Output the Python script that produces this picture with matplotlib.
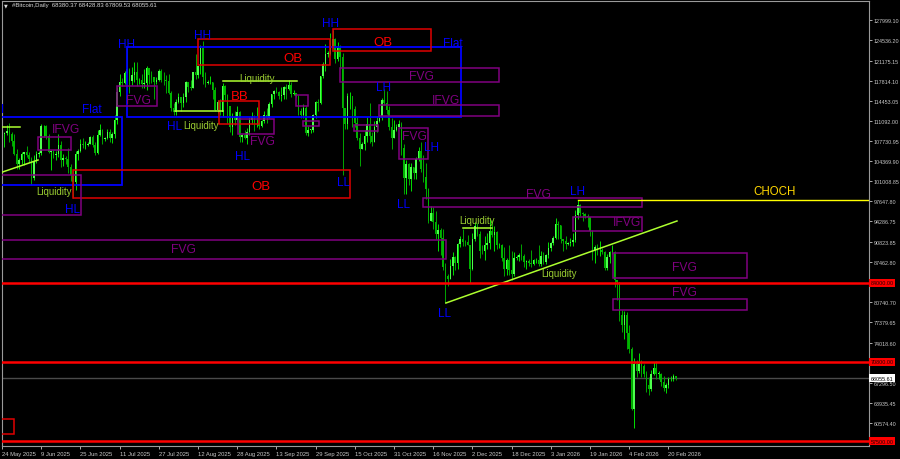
import numpy as np
import pandas as pd
import matplotlib
matplotlib.use("Agg")
from matplotlib import pyplot as plt
from matplotlib.patches import Rectangle

plt.rcParams['font.family'] = ['Liberation Sans', 'DejaVu Sans']

start = pd.Timestamp('2025-05-24')
first_open = 107.3  # thousands USD

# daily closes (thousands USD), one line per month
closes = [
    108.9, 109.0, 109.4, 108.9, 107.8, 105.6, 103.9, 104.6,
    105.6, 105.8, 105.4, 104.7, 101.5, 104.3, 105.6, 105.7, 110.2, 110.2, 108.6, 105.9, 106.0, 105.4, 105.6, 107.1, 104.6, 104.9, 104.7, 103.3, 102.1, 100.9, 105.6, 106.0, 107.3, 107.0, 107.1, 107.3, 108.4, 107.1,
    105.7, 108.8, 109.6, 108.0, 108.2, 109.2, 108.2, 108.9, 111.3, 115.9, 117.5, 117.4, 119.1, 119.8, 117.7, 118.7, 119.3, 117.9, 117.9, 117.3, 117.4, 119.9, 118.8, 118.4, 117.6, 117.9, 119.4, 118.0, 117.9, 117.8, 115.8,
    113.3, 112.5, 114.2, 115.1, 114.1, 115.0, 117.5, 116.7, 116.5, 119.3, 118.7, 120.2, 123.3, 118.4, 117.4, 117.5, 117.5, 116.3, 112.9, 114.3, 112.5, 116.9, 115.4, 113.5, 110.1, 111.8, 111.2, 112.6, 108.4, 108.8, 108.2,
    109.2, 111.2, 111.7, 110.7, 110.7, 110.2, 111.1, 112.0, 111.5, 113.9, 115.5, 116.1, 115.9, 115.3, 115.4, 116.8, 116.4, 117.1, 115.6, 115.7, 115.3, 112.7, 112.0, 113.3, 109.0, 109.6, 109.6, 112.1, 114.3, 114.1,
    118.6, 120.6, 122.3, 122.3, 123.5, 124.8, 121.4, 123.3, 121.7, 113.2, 110.6, 115.2, 115.3, 113.1, 110.8, 108.2, 106.4, 107.2, 108.6, 110.6, 108.5, 107.6, 110.1, 111.0, 111.6, 114.6, 114.1, 112.9, 110.0, 108.3, 109.6,
    110.1, 110.6, 106.6, 101.6, 103.9, 101.3, 103.4, 102.3, 104.7, 106.0, 103.0, 101.7, 99.7, 94.4, 95.6, 94.2, 92.2, 92.9, 91.5, 86.6, 85.1, 84.6, 86.8, 88.3, 87.3, 90.5, 91.3, 90.9, 90.8, 90.4,
    86.3, 91.3, 93.5, 92.1, 89.4, 89.3, 90.4, 90.6, 92.7, 92.0, 92.5, 90.3, 90.3, 88.2, 86.4, 87.8, 86.2, 85.5, 88.1, 88.3, 88.6, 88.5, 87.5, 87.6, 87.3, 87.2, 87.8, 87.8, 87.1, 88.5, 87.5,
    88.7, 89.9, 90.6, 91.5, 93.8, 93.7, 91.3, 91.0, 90.5, 90.6, 90.9, 91.2, 95.3, 97.0, 95.6, 95.5, 95.1, 95.0, 92.6, 89.5, 90.0, 89.5, 89.5, 89.2, 86.5, 88.3, 89.1, 89.2, 84.5, 84.1, 78.6,
    76.9, 78.7, 75.6, 73.0, 62.9, 70.5, 69.3, 70.5, 70.1, 68.8, 67.0, 66.2, 68.8, 69.8, 68.8, 68.8, 67.5, 66.4, 66.9, 67.9, 68.0, 68.38037, 68.05561,
]
highs = [
    109.5, 109.3, 110.4, 110.7, 109.3, 108.9, 106.3, 104.9,
    105.9, 105.9, 106.8, 105.9, 105.0, 105.3, 106.0, 106.1, 110.5, 110.4, 110.4, 108.9, 106.2, 106.2, 106.1, 108.9, 107.7, 105.6, 105.2, 106.5, 103.9, 103.0, 106.1, 106.3, 108.0, 108.2, 107.7, 107.6, 108.5, 108.8,
    107.5, 109.6, 110.5, 109.8, 108.4, 109.7, 109.7, 109.2, 112.0, 116.8, 118.9, 118.2, 119.5, 123.2, 119.9, 120.1, 120.9, 120.9, 118.3, 118.9, 119.7, 120.2, 120.0, 119.5, 118.5, 118.4, 119.8, 119.8, 119.3, 118.8, 118.9,
    116.1, 114.0, 114.7, 115.7, 115.1, 115.7, 117.7, 117.6, 117.9, 119.3, 122.3, 120.3, 123.7, 124.4, 119.2, 117.9, 118.6, 117.6, 116.8, 114.6, 114.8, 117.4, 117.0, 115.5, 113.5, 112.4, 112.8, 113.5, 112.7, 108.9, 109.5,
    109.9, 111.7, 112.6, 112.0, 113.4, 110.9, 111.3, 112.8, 113.2, 114.3, 115.5, 116.3, 116.7, 116.1, 116.7, 116.9, 117.3, 117.9, 117.5, 116.2, 115.8, 115.4, 113.3, 113.9, 113.6, 110.3, 109.8, 112.3, 114.4, 114.8,
    118.6, 121.0, 123.9, 122.8, 125.7, 126.2, 125.0, 124.2, 123.7, 122.5, 113.3, 115.8, 115.9, 115.2, 113.5, 111.8, 109.1, 107.5, 109.5, 111.7, 114.0, 109.2, 111.0, 111.9, 111.9, 114.9, 116.4, 116.1, 113.6, 111.6, 111.2,
    110.6, 111.2, 110.9, 107.3, 104.5, 104.1, 104.0, 103.4, 105.0, 106.7, 107.5, 105.3, 104.0, 99.8, 96.8, 96.6, 96.0, 93.8, 93.1, 93.0, 87.4, 85.5, 88.0, 89.2, 88.5, 90.6, 91.9, 93.0, 91.2, 92.0,
    90.4, 92.3, 94.2, 94.0, 92.7, 90.3, 91.8, 92.3, 94.6, 94.5, 93.5, 92.7, 90.6, 90.5, 90.0, 88.2, 90.4, 89.4, 89.1, 88.6, 89.0, 90.5, 88.9, 87.9, 88.0, 89.5, 88.0, 88.1, 90.4, 89.3, 89.1,
    88.9, 90.9, 90.8, 91.8, 94.8, 94.4, 93.7, 91.4, 91.8, 90.8, 91.5, 92.4, 96.2, 97.9, 97.2, 95.9, 95.6, 95.5, 95.0, 92.8, 90.4, 90.5, 91.0, 89.8, 89.3, 88.9, 89.4, 90.4, 89.4, 84.5, 84.2,
    79.5, 79.3, 79.1, 76.9, 73.3, 71.5, 71.1, 72.2, 71.1, 70.4, 69.2, 68.3, 69.5, 70.8, 70.9, 69.3, 69.0, 68.4, 67.3, 68.3, 68.5, 68.7, 68.42883,
]
lows = [
    106.8, 106.7, 108.7, 107.5, 106.8, 105.4, 103.1, 103.1,
    103.9, 103.7, 105.0, 104.2, 100.4, 101.2, 104.0, 105.1, 105.4, 108.4, 108.1, 105.7, 102.8, 104.9, 104.6, 105.0, 103.4, 103.6, 103.9, 102.4, 101.0, 98.2, 99.6, 104.6, 105.9, 106.6, 106.4, 106.9, 107.2, 106.7,
    105.3, 105.6, 108.6, 107.3, 107.8, 108.0, 107.5, 107.4, 108.3, 110.6, 115.2, 116.9, 117.3, 118.9, 115.7, 117.1, 117.6, 116.9, 117.3, 116.5, 116.5, 116.2, 117.3, 117.4, 114.7, 117.2, 117.8, 117.5, 117.0, 115.8, 115.5,
    112.7, 112.0, 112.1, 114.0, 112.7, 113.4, 114.3, 115.9, 116.3, 116.6, 118.1, 118.2, 118.9, 117.3, 116.8, 117.2, 117.2, 114.7, 112.7, 112.4, 112.0, 111.7, 114.6, 110.8, 109.3, 108.8, 110.4, 110.9, 107.5, 107.5, 108.1,
    107.3, 108.8, 110.6, 109.4, 110.0, 109.8, 110.1, 110.7, 110.8, 111.5, 113.4, 114.8, 115.7, 114.8, 114.4, 114.8, 114.8, 116.3, 115.1, 115.4, 115.1, 112.0, 111.5, 111.5, 108.7, 108.6, 109.1, 109.2, 111.6, 112.7,
    113.9, 118.3, 119.4, 121.7, 122.1, 123.2, 120.7, 121.1, 119.7, 102.0, 109.8, 109.7, 113.1, 110.0, 110.1, 107.9, 103.6, 106.4, 106.2, 107.5, 107.4, 106.9, 107.5, 109.2, 110.9, 111.3, 113.8, 112.2, 109.6, 106.3, 108.6,
    109.4, 109.9, 105.3, 98.9, 98.9, 100.3, 99.3, 101.4, 101.4, 104.3, 102.5, 100.8, 98.0, 94.0, 94.7, 93.0, 91.3, 89.3, 88.6, 86.2, 80.6, 83.5, 84.6, 85.3, 86.2, 86.3, 90.0, 90.2, 90.2, 90.3,
    83.9, 86.2, 91.0, 91.8, 88.1, 88.9, 87.8, 89.6, 89.6, 91.6, 89.3, 89.7, 89.8, 87.6, 85.2, 85.3, 85.3, 84.5, 85.1, 87.9, 87.6, 87.9, 86.6, 86.4, 86.9, 86.6, 87.0, 87.4, 86.8, 86.8, 87.1,
    87.1, 88.2, 89.3, 90.4, 91.3, 91.3, 90.7, 89.3, 89.6, 90.3, 90.2, 90.1, 90.9, 94.6, 95.1, 94.3, 94.9, 93.4, 91.9, 87.9, 87.3, 88.6, 88.5, 88.9, 86.1, 86.2, 87.3, 88.8, 83.3, 81.1, 77.6,
    75.7, 74.6, 72.9, 72.2, 62.7, 59.8, 68.2, 68.9, 68.3, 68.2, 65.8, 65.2, 65.9, 68.6, 68.0, 67.9, 66.7, 65.9, 65.6, 66.5, 67.6, 67.6, 67.80953,
]

# y axis labels as printed by the terminal
ytick_vals = [127999.10, 124536.20, 121175.15, 117814.10, 114453.05, 111092.00, 107730.95,
              104369.90, 101008.85, 97647.80, 94286.75, 90823.85, 87462.80, 80740.70,
              77379.65, 74018.60, 67296.50, 63935.45, 60574.40]
red_levels = [84000.00, 70800.00, 57500.00]
last_price = 68055.61
header = "#Bitcoin,Daily  68380.37 68428.83 67809.53 68055.61"

# annotations: x in days from start, y in price
structure_labels = [
    ("HH", -2.6, 113068), ("HH", 51.0, 123936), ("HH", 82.0, 125441), ("HH", 133.9, 127447),
    ("HL", 70.6, 110226), ("HL", 98.0, 105210), ("HL", 28.6, 96348),
    ("LL", 139.2, 100863), ("LL", 163.7, 97184), ("LL", 180.8, 78960),
    ("LH", 155.9, 116746), ("LH", 175.5, 106715), ("LH", 235.1, 99358),
    ("Flat", 36.7, 113068), ("Flat", 184.0, 124103),
]
flat_boxes = [(-1, 49.0, 111731, 100361), (51.0, 187.3, 123434, 111731)]
ob_boxes = [(80.0, 133.9, 124772, 120424), (135.1, 175.1, 126444, 122765),
            (29.0, 142.0, 102869, 98187), (88.6, 104.9, 114406, 110560),
            (-1, 4.9, 61236, 58728)]
ob_labels = [("OB", 118.8, 121595), ("OB", 155.5, 124270), ("OB", 105.7, 100194), ("BB", 97.1, 115242)]
fvg_boxes = [(14.7, 28.2, 108387, 106213), (-1, 32.2, 102033, 95345), (47.1, 63.3, 116913, 113570),
             (96.3, 111.0, 111397, 108888), (120.0, 124.9, 115409, 113570), (122.9, 129.4, 111062, 110226),
             (143.7, 153.5, 110393, 109390), (138.0, 202.9, 119923, 117582), (153.9, 202.9, 113737, 111898),
             (162.0, 173.9, 109892, 104708), (171.8, 261.2, 98187, 96683), (233.1, 261.2, 95011, 92670),
             (-1, 181.2, 91165, 87988), (249.4, 304.1, 88992, 84812), (249.4, 304.1, 81301, 79461)]
fvg_labels = [("IFVG", 26.1, 109724), ("FVG", 55.5, 114573), ("FVG", 106.1, 107718), ("FVG", 171.0, 118585),
              ("IFVG", 181.2, 114573), ("FVG", 168.2, 108554), ("FVG", 218.8, 98855), ("IFVG", 255.1, 94174),
              ("FVG", 73.9, 89660), ("FVG", 278.4, 86651), ("FVG", 278.4, 82471)]
liq_lines = [((-1, 102367), (14.7, 104541)), ((-1, 110059), (7.3, 110059)),
             ((70.6, 112734), (90.0, 112734)), ((90.2, 117749), (120.4, 117749)),
             ((188.2, 93172), (200.0, 93172)), ((181.2, 80632), (275.5, 94342))]
liq_labels = [(21.2, 99358), (81.2, 110393), (104.0, 118251), (193.9, 94509), (227.3, 85648)]
choch_start, choch_price = 235.1, 97850
choch_label = (315.5, 99358)

BLUE, RED, PURPLE = '#0000ff', '#e00000', '#800080'
LIQ, LIQ_TXT = '#adff2f', '#9acd32'

c = np.array(closes) * 1000
h = np.array(highs) * 1000
l = np.array(lows) * 1000
o = np.concatenate([[first_open * 1000], c[:-1]])
assert len(c) == len(h) == len(l)
h = np.maximum(h, np.maximum(o, c))
l = np.minimum(l, np.minimum(o, c))
days = np.arange(len(c))

fig = plt.figure(figsize=(9, 4.6), dpi=100, facecolor='black')
ax = fig.add_axes([2 / 900, 13 / 460, 867 / 900, 445 / 460], facecolor='black')

up = c >= o
ax.vlines(days, l, h, colors=np.where(up, '#00e000', '#00a800'), linewidth=0.7, zorder=2)
ax.bar(days, np.maximum(np.abs(c - o), 60), bottom=np.minimum(o, c), width=0.62,
       color=np.where(up, '#4cff4c', '#00b400'), linewidth=0, zorder=2)

def box(b, col, lw):
    x0, x1, y0, y1 = b
    ax.add_patch(Rectangle((x0, min(y0, y1)), x1 - x0, abs(y1 - y0), fill=False,
                           edgecolor=col, linewidth=lw, zorder=3))

for b in flat_boxes:
    box(b, BLUE, 1.3)
for b in ob_boxes:
    box(b, RED, 1.1)
for b in fvg_boxes:
    box(b, PURPLE, 1.1)

for t, x, y in structure_labels:
    ax.text(x, y, t, color=BLUE, fontsize=8.5, ha='center', va='center', zorder=4, clip_on=True)
for t, x, y in ob_labels:
    ax.text(x, y, t, color='#ff0000', fontsize=9.5, ha='center', va='center', zorder=4)
for t, x, y in fvg_labels:
    ax.text(x, y, t, color=PURPLE, fontsize=8.7, ha='center', va='center', zorder=4)
for (x0, y0), (x1, y1) in liq_lines:
    ax.plot([x0, x1], [y0, y1], color=LIQ, linewidth=1.1, zorder=3)
for x, y in liq_labels:
    ax.text(x, y, "Liquidity", color=LIQ_TXT, fontsize=7, ha='center', va='center', zorder=4)

ax.plot([choch_start, 400], [choch_price, choch_price], color='#ffff00', linewidth=1.0, zorder=3)
ax.text(*choch_label, "CHOCH", color='#ffd700', fontsize=8.3, ha='center', va='center', zorder=4)

for p in red_levels:
    ax.axhline(p, color='#ff0000', linewidth=1.8, zorder=3)
    ax.text(1.0015, p, f"{p:.2f}", transform=ax.get_yaxis_transform(), fontsize=3.9, color='#200000',
            ha='left', va='center', clip_on=False, zorder=10,
            bbox=dict(boxstyle='square,pad=0.3', fc='#ff0000', ec='none'))
ax.axhline(last_price, color='#4a4a4a', linewidth=1.0, zorder=1)
ax.text(1.0015, last_price, f"{last_price:.2f}", transform=ax.get_yaxis_transform(), fontsize=3.9,
        color='black', ha='left', va='center', clip_on=False, zorder=10,
        bbox=dict(boxstyle='square,pad=0.3', fc='white', ec='none'))

ax.set_xlim(0, 867 / 2.45)
ax.set_ylim(56722, 131126)

tick_dates = pd.date_range(start, periods=18, freq='16D')
ax.set_xticks([(d - start).days for d in tick_dates])
ax.set_xticklabels([f"{d.day} {d.strftime('%b %Y')}" for d in tick_dates], ha='left')
ax.yaxis.tick_right()
ax.set_yticks(ytick_vals)
ax.set_yticklabels([f"{v:.2f}" for v in ytick_vals])
ax.tick_params(axis='x', colors='#c8c8c8', labelsize=4.2, length=2.5, width=0.6, pad=1)
ax.tick_params(axis='y', colors='#c8c8c8', labelsize=3.9, length=2.5, width=0.6, pad=0.8)
for s in ax.spines.values():
    s.set_color('#9a9a9a')
    s.set_linewidth(0.8)

fig.text(12 / 900, 1 - 6 / 460, header, color='#d8d8d8', fontsize=4.3, va='center')
fig.text(4 / 900, 1 - 6 / 460, "\u25bc", color='#d8d8d8', fontsize=3.5, va='center',
         family='DejaVu Sans')

fig.savefig('out.png', dpi=100, facecolor='black')
